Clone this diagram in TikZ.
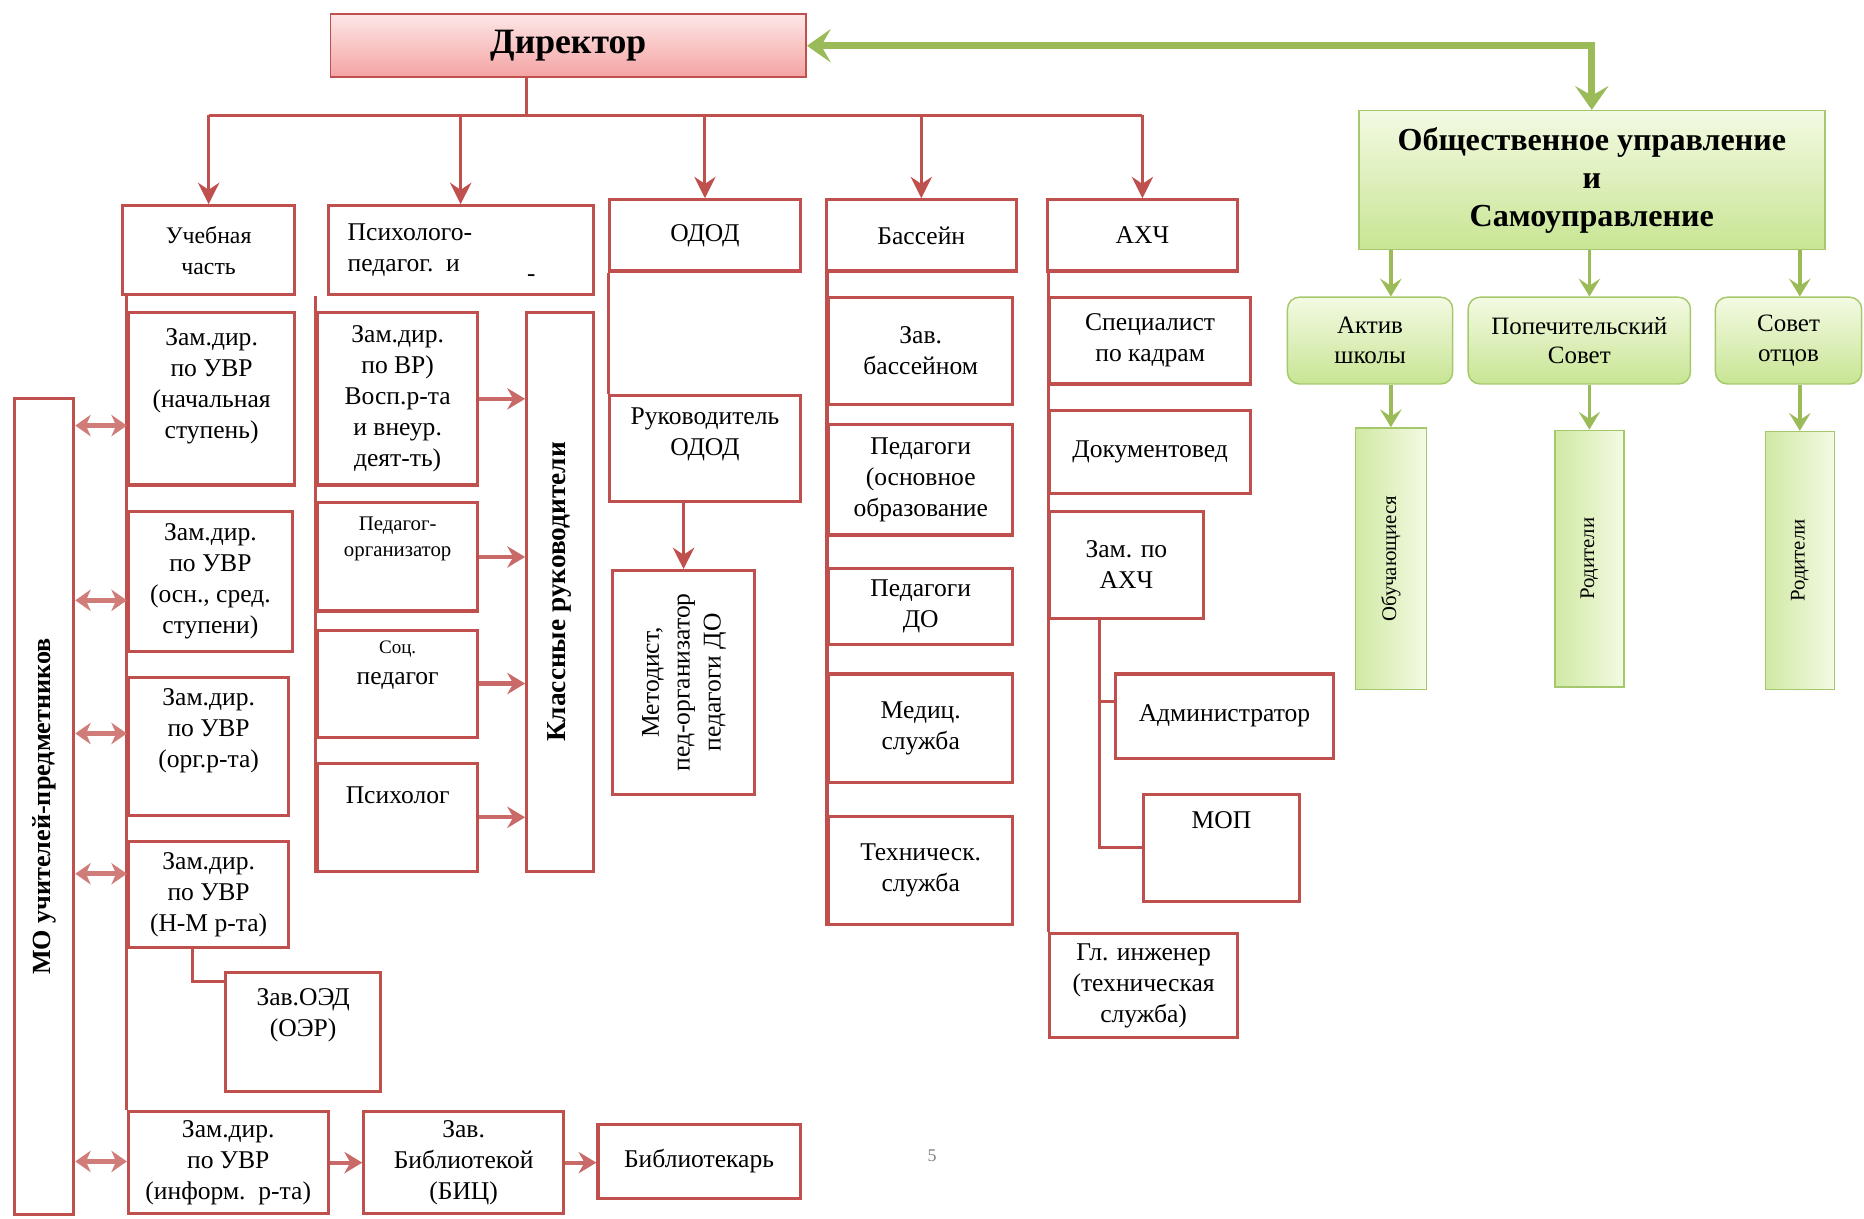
\documentclass[tikz,border=0pt]{standalone}
\usepackage{fontspec}
\setmainfont{Liberation Serif}
\usetikzlibrary{arrows.meta}
\definecolor{brick}{HTML}{C0504D}
\definecolor{leaf}{HTML}{9BBB59}
\definecolor{leafedge}{HTML}{A6C86C}
\definecolor{dirtop}{HTML}{FDE6E6}
\definecolor{dirbot}{HTML}{F4A3A3}
\definecolor{pale}{HTML}{F3FAE3}
\definecolor{lime}{HTML}{C8E593}
\newcommand{\pad}[1]{\\[#1]\mbox{}}
\newcommand{\vtext}[1]{\rotatebox{90}{\begin{tabular}{@{}c@{}}#1\end{tabular}}}
\tikzset{
  rbox/.style={draw=brick, line width=2.6pt, fill=white, align=center, inner sep=1pt, font=\fontsize{21.5}{26}\selectfont},
  gbox/.style={draw=leafedge, line width=1.2pt, top color=pale, bottom color=lime, align=center, inner sep=1pt, font=\fontsize{21}{25}\selectfont},
  gcol/.style={draw=leafedge, line width=1.2pt, left color=lime!85, right color=pale, inner sep=1pt, font=\fontsize{17.5}{20}\selectfont},
  link/.style={draw=brick, line width=2.6pt},
  down/.style={link, -{Stealth[length=18pt,width=18pt,inset=6pt]}},
  push/.style={draw=brick!85, line width=3.5pt, -{Stealth[length=15pt,width=18pt,inset=5pt]}},
  both/.style={draw=brick!75, line width=4.5pt, {Stealth[length=13pt,width=18pt,inset=4pt]}-{Stealth[length=13pt,width=18pt,inset=4pt]}},
  gdown/.style={draw=leaf, line width=3pt, -{Stealth[length=15pt,width=18pt,inset=6pt]}}
}
\begin{document}
\begin{tikzpicture}[x=1pt, y=-1pt]
\useasboundingbox (0,0) rectangle (1568,1025);

\node[rbox, line width=1.6pt, top color=dirtop, bottom color=dirbot, minimum width=400pt, minimum height=53pt, font=\fontsize{30}{34}\selectfont\bfseries] (dir) at (478,38.5) {Директор};
\node[gbox, minimum width=392pt, minimum height=117pt, font=\fontsize{27}{32}\selectfont\bfseries] (obsh) at (1339,151.5) {Общественное управление\\и\\Самоуправление};

\node[rbox, minimum width=145pt, minimum height=75pt, font=\fontsize{20}{26}\selectfont] (ucheb) at (175.5,210.5) {Учебная\\часть};
\node[rbox, minimum width=223pt, minimum height=75pt, text width=190pt, align=left] (psy) at (387.5,210.5) {Психолого-\\педагог. и};
\node[font=\fontsize{21}{26}\selectfont] (psydash) at (447,234) {-};
\node[rbox, minimum width=160pt, minimum height=60pt] (odod) at (593,198) {ОДОД};
\node[rbox, minimum width=160pt, minimum height=60pt] (bass) at (775,198) {Бассейн};
\node[rbox, minimum width=160pt, minimum height=60pt] (ahch) at (961,198) {АХЧ};

\node[rbox, minimum width=50pt, minimum height=687pt] (mo) at (37,678.5) {\rotatebox{90}{\fontsize{22}{24}\selectfont\bfseries МО учителей-предметников}};
\node[rbox, minimum width=140pt, minimum height=145pt] (z1) at (178,335.5) {Зам.дир.\\по УВР\\(начальная\\ступень)\pad{0pt}};
\node[rbox, minimum width=138pt, minimum height=118pt] (z2) at (177,489) {Зам.дир.\\по УВР\\(осн., сред.\\ступени)};
\node[rbox, minimum width=135pt, minimum height=116pt] (z3) at (175.5,628) {Зам.дир.\\по УВР\\(орг.р-та)\pad{5pt}};
\node[rbox, minimum width=135pt, minimum height=89pt] (z4) at (175.5,752.5) {Зам.дир.\\по УВР\\(Н-М р-та)};
\node[rbox, minimum width=130pt, minimum height=100pt] (oed) at (255,868) {Зав.ОЭД\\(ОЭР)\pad{7pt}};
\node[rbox, minimum width=168pt, minimum height=86pt] (z5) at (192,978) {Зам.дир.\\по УВР\\(информ.\ \ р-та)};
\node[rbox, minimum width=168pt, minimum height=86pt] (bic) at (390,978) {Зав.\\Библиотекой\\(БИЦ)};
\node[rbox, minimum width=170pt, minimum height=62pt] (bibl) at (588,977) {Библиотекарь};

\node[rbox, minimum width=135pt, minimum height=145pt] (vr) at (334.5,335.5) {Зам.дир.\\по ВР)\\Восп.р-та\\и внеур.\\деят-ть)};
\node[rbox, minimum width=135pt, minimum height=91pt, font=\fontsize{17.5}{22}\selectfont] (porg) at (334.5,468.5) {Педагог-\\организатор\pad{12pt}};
\node[rbox, minimum width=135pt, minimum height=90pt] (soc) at (334.5,575) {{\fontsize{16}{20}\selectfont Соц.}\\педагог\pad{9pt}};
\node[rbox, minimum width=135pt, minimum height=91pt] (psyh) at (334.5,687.5) {Психолог\pad{12pt}};
\node[rbox, minimum width=56pt, minimum height=470pt] (klass) at (471,498) {\rotatebox{90}{\fontsize{23}{26}\selectfont\bfseries Классные руководители}};

\node[rbox, minimum width=160pt, minimum height=89pt] (rukod) at (593,377.5) {Руководитель\\ОДОД\pad{3pt}};
\node[rbox, minimum width=120pt, minimum height=188pt] (metod) at (575,574) {\vtext{Методист,\\пед-организатор\\педагоги ДО}};

\node[rbox, minimum width=155pt, minimum height=90pt] (zb) at (774.5,295) {Зав.\\бассейном};
\node[rbox, minimum width=155pt, minimum height=93pt] (ped1) at (774.5,403.5) {Педагоги\\(основное\\образование};
\node[rbox, minimum width=155pt, minimum height=64pt] (ped2) at (774.5,510) {Педагоги\\ДО};
\node[rbox, minimum width=155pt, minimum height=91pt] (med) at (774.5,612.5) {Медиц.\\служба};
\node[rbox, minimum width=155pt, minimum height=91pt] (teh) at (774.5,732.5) {Техническ.\\служба};

\node[rbox, minimum width=169pt, minimum height=73pt] (kadr) at (967.5,286.5) {Специалист\\по кадрам};
\node[rbox, minimum width=169pt, minimum height=70pt] (dok) at (967.5,380) {Документовед};
\node[rbox, minimum width=129pt, minimum height=90pt] (zamahch) at (947.5,475) {Зам. по\\АХЧ};
\node[rbox, minimum width=184pt, minimum height=71pt] (adm) at (1030,602.5) {Администратор};
\node[rbox, minimum width=131pt, minimum height=90pt] (mop) at (1027.5,713) {МОП\pad{20pt}};
\node[rbox, minimum width=158pt, minimum height=88pt] (inzh) at (962,829) {Гл. инженер\\(техническая\\служба)};

\node[gbox, rounded corners=10pt, minimum width=139pt, minimum height=73pt] (aktiv) at (1152.5,286.5) {Актив\\школы};
\node[gbox, rounded corners=10pt, minimum width=187pt, minimum height=73pt] (popech) at (1328.5,286.5) {Попечительский\\Совет};
\node[gbox, rounded corners=10pt, minimum width=123pt, minimum height=73pt] (otcy) at (1504.5,286.5) {Совет\\отцов};
\node[gcol, minimum width=60pt, minimum height=220pt] (uch) at (1170,470) {\rotatebox{90}{Обучающиеся}};
\node[gcol, minimum width=58pt, minimum height=216pt] (rod1) at (1337,470) {\rotatebox{90}{Родители}};
\node[gcol, minimum width=58pt, minimum height=217pt] (rod2) at (1514,471.5) {\rotatebox{90}{Родители}};

\node[text=gray, font=\fontsize{15}{18}\selectfont] (pnum) at (784,972) {5};

\coordinate (bus) at (0,97);
\coordinate (stem) at ([xshift=-35pt]dir.south);
\draw[link] (stem) -- (stem |- bus);
\draw[link] (ucheb.north |- bus) -- (ahch.north |- bus);
\foreach \n in {ucheb,psy,odod,bass,ahch}
  \draw[down] (\n.north |- bus) -- (\n.north);

\draw[draw=leaf, line width=6pt, {Stealth[length=20pt,width=28pt,inset=8pt]}-{Stealth[length=20pt,width=28pt,inset=8pt]}] (dir.east) -| (obsh.north);
\foreach \a/\b in {aktiv/uch,popech/rod1,otcy/rod2} {
  \draw[gdown] (obsh.south -| \b.north) -- (\a.north -| \b.north);
  \draw[gdown] (\a.south -| \b.north) -- (\b.north);
}

\draw[link] (z1.west |- ucheb.south) -- (z5.north west);
\coordinate (oedstem) at ([xshift=-13.5pt]z4.south);
\draw[link] (oedstem) |- ([yshift=-9pt]oed.north west);
\foreach \n/\y in {z1/358,z2/505,z3/617,z4/735,z5/977}
  \draw[both] (mo.east |- 0,\y) -- (\n.west |- 0,\y);
\draw[push] (z5.east) -- (bic.west);
\draw[push] (bic.east) -- (bibl.west |- bic.east);

\draw[link] (vr.west |- psy.south) -- (psyh.south west);
\foreach \n in {vr,porg,soc,psyh}
  \draw[push] (\n.east) -- (klass.west |- \n.east);

\draw[link] (odod.south west) -- (rukod.north west);
\draw[down] (rukod.south -| metod.north) -- (metod.north);

\draw[link] (zb.west |- bass.south) -- (teh.south west);

\draw[link] (kadr.west |- ahch.south) -- (inzh.north west);
\coordinate (subst) at ([xshift=-22.5pt]zamahch.south);
\draw[link] (subst) |- (mop.west);
\draw[link] (subst |- 0,590) -- (adm.west |- 0,590);
\end{tikzpicture}
\end{document}
